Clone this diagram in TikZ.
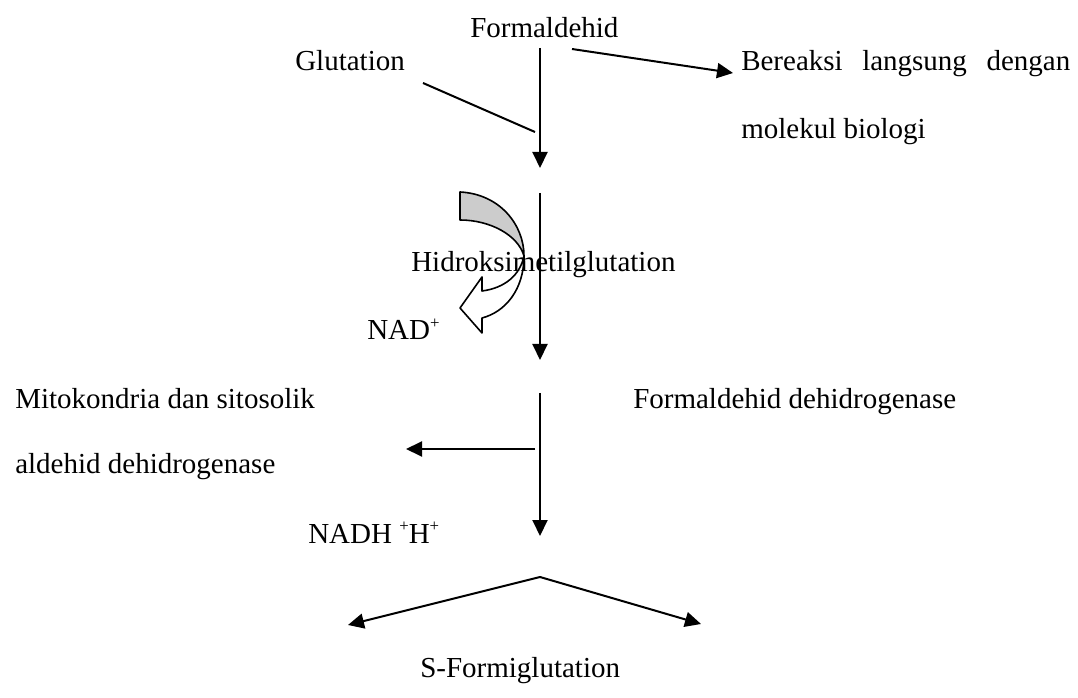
\documentclass[tikz,border=0pt]{standalone}
\usepackage{fontspec}
\setmainfont{Liberation Serif}
\usetikzlibrary{arrows.meta}
\newcommand\mysupp[1]{\raisebox{0.40em}{\fontsize{12.6}{13}\selectfont #1}}
\begin{document}
\begin{tikzpicture}[x=0.75pt,y=-0.75pt,
  lbl/.style={anchor=base west,inner sep=0pt,font=\fontsize{21.75}{26}\selectfont},
  conn/.style={line width=1.5pt},
  arr/.style={conn,-{Triangle[length=12pt,width=11.25pt]}},
  band/.style={line width=1.2pt,line join=round}]
\path[use as bounding box] (0,0) rectangle (1078,698);
% curved block arrow
\filldraw[band,fill=black!20] (460,192) -- (460,220) .. controls (490,220) and (518,235) .. (524,256)
   .. controls (524,225) and (500,194) .. (460,192) -- cycle;
\draw[band] (524,256) .. controls (520,275) and (505,288) .. (482,291) -- (482,277) -- (460,308)
   -- (482,333) -- (482,318) .. controls (505,312) and (524,290) .. (524,256);
% texts
\node[lbl] (form) at (470,38) {Formaldehid};
\node[lbl] (glut) at (295,71) {Glutation};
\node[lbl] (ber1) at (741,71) {\hbox to 246.75pt{Bereaksi\hfill langsung\hfill dengan}};
\node[lbl] (ber2) at (741,139) {molekul biologi};
\node[lbl] (hidr) at (411,272) {Hidroksimetilglutation};
\node[lbl] (nad) at (367,340) {NAD\mysupp{+}};
\node[lbl] (mito1) at (15,408) {Mitokondria dan sitosolik};
\node[lbl] (mito2) at (15,473) {aldehid dehidrogenase};
\node[lbl] (fdh) at (633,409) {Formaldehid dehidrogenase};
\node[lbl] (nadh) at (308,543) {NADH \mysupp{+}H\mysupp{+}};
\node[lbl] (sfor) at (420,677) {S-Formiglutation};
% coordinates
\coordinate (a1s) at (540,48);
\coordinate (a1e) at (540,168);
\coordinate (bs) at (572,49);
\coordinate (be) at (733,73);
\coordinate (gs) at (423,83);
\coordinate (ge) at (535,132);
\coordinate (a2s) at (540,193);
\coordinate (a2e) at (540,360);
\coordinate (a3s) at (540,393);
\coordinate (a3e) at (540,536);
\coordinate (hs) at (535,449);
\coordinate (he) at (406,449);
\coordinate (apex) at (540,577);
\coordinate (vl) at (348,625);
\coordinate (vr) at (701,624);
% connectors
\draw[arr] (a1s) -- (a1e);
\draw[arr] (bs) -- (be);
\draw[conn] (gs) -- (ge);
\draw[arr] (a2s) -- (a2e);
\draw[arr] (a3s) -- (a3e);
\draw[arr] (hs) -- (he);
\draw[arr] (apex) -- (vl);
\draw[arr] (apex) -- (vr);
\end{tikzpicture}
\end{document}
